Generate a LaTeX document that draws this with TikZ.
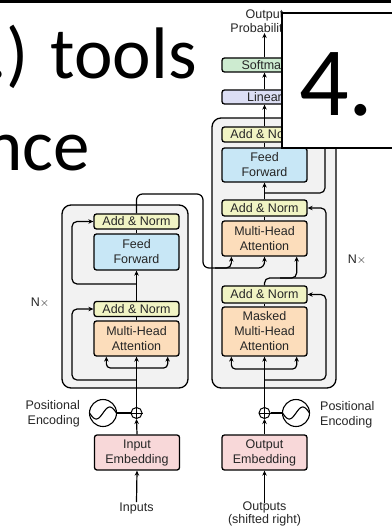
\documentclass[tikz,border=0pt]{standalone}
\usepackage{fontspec}
\setmainfont{Liberation Sans}
\newfontfamily\slidefont{Carlito}
\usetikzlibrary{arrows.meta}
\definecolor{anfill}{HTML}{F1F4C4}
\definecolor{fffill}{HTML}{C8E7F6}
\definecolor{mhafill}{HTML}{FCDDBB}
\definecolor{embfill}{HTML}{F8D8D9}
\definecolor{linfill}{HTML}{DCDEF4}
\definecolor{smfill}{HTML}{CDEBD0}
\definecolor{layerfill}{HTML}{F2F2F2}
\definecolor{txt}{HTML}{262626}
\begin{document}
\begin{tikzpicture}[x=1pt,y=-1pt,
  every node/.style={font=\fontsize{12.5}{15}\selectfont, text=txt},
  blk/.style={draw=black, line width=1.3pt, rounded corners=2.5pt, minimum width=85pt, inner sep=0pt, align=center},
  an/.style={blk, fill=anfill, minimum height=15pt},
  ffb/.style={blk, fill=fffill, minimum height=35pt},
  mha/.style={blk, fill=mhafill, minimum height=35pt},
  emb/.style={blk, fill=embfill, minimum height=35pt},
  layer/.style={draw=black, line width=1.3pt, fill=layerfill, rounded corners=9pt, inner sep=0pt},
  conn/.style={line width=1.2pt, draw=black},
  arr/.style={conn, -{Stealth[length=5pt,width=4.5pt]}},
  addc/.style={circle, draw=black, line width=1pt, fill=white, minimum size=11pt, inner sep=0pt},
  pec/.style={circle, draw=black, line width=1.1pt, fill=white, minimum size=27pt, inner sep=0pt},
  lbl/.style={inner sep=0pt, align=center},
  slide/.style={inner sep=0pt, text=black, anchor=base west},
]
\useasboundingbox (0,0) rectangle (391,532);
\fill[white] (0,0) rectangle (391,532);

% slide text
\node[slide, font=\slidefont\fontsize{73}{73}\selectfont] (t1) at (-12,79) {.) tools};
\node[slide, font=\slidefont\fontsize{73}{73}\selectfont] (t2) at (-16,170) {nce};

% layer boxes
\node[layer, minimum width=126pt, minimum height=183pt] (encbox) at (125,296.5) {};
\node[layer, minimum width=124pt, minimum height=270pt] (decbox) at (274,253) {};

% encoder
\node[an] (encAN2) at (136.5,221.5) {Add \& Norm};
\node[ffb, minimum height=36pt] (encFF) at (136.5,252) {Feed\\Forward};
\node[an] (encAN1) at (136.5,309) {Add \& Norm};
\node[mha] (encMHA) at (136.5,338.5) {Multi-Head\\Attention};
\node[emb] (encEmb) at (137,452.5) {Input\\Embedding};
\node[addc] (encadd) at (136.5,413) {};
\node[pec] (encpe) at (103,413) {};
\node[lbl, anchor=east, align=right] (encpet) at (80,414) {Positional\\Encoding};
\node[lbl] (inputs) at (136.5,508) {Inputs};
\node[lbl] (encN) at (40,303) {N$\times$};

% decoder
\node[blk, fill=smfill, minimum height=14pt] (soft) at (264.5,65) {Softmax};
\node[blk, fill=linfill, minimum height=14pt] (lin) at (264.5,97) {Linear};
\node[lbl, font=\fontsize{12.5}{14}\selectfont] (outprob) at (264.5,21.5) {Output\\Probabilities};
\node[an] (decAN3) at (264.5,134.5) {Add \& Norm};
\node[ffb, minimum height=34pt] (decFF) at (264.5,165) {Feed\\Forward};
\node[an, minimum height=16pt] (decAN2) at (264.5,208) {Add \& Norm};
\node[mha] (decMHA) at (264.5,238.5) {Multi-Head\\Attention};
\node[an, minimum height=17pt] (decAN1) at (264.5,294.5) {Add \& Norm};
\node[mha, minimum height=49pt] (decMMHA) at (264.5,331.5) {Masked\\Multi-Head\\Attention};
\node[emb] (decEmb) at (264.5,452.5) {Output\\Embedding};
\node[addc] (decadd) at (264.5,413) {};
\node[pec] (decpe) at (296,413) {};
\node[lbl, anchor=west, align=left] (decpet) at (320,415) {Positional\\Encoding};
\node[lbl, font=\fontsize{12.5}{13.5}\selectfont] (outputs) at (264.5,514) {Outputs\\(shifted right)};
\node[lbl] (decN) at (357,260) {N$\times$};

% add symbols and sine waves
\foreach \n in {encadd,decadd}{
  \draw[line width=1pt] (\n.north) -- (\n.south);
  \draw[line width=1pt] (\n.west) -- (\n.east);
}
\foreach \n in {encpe,decpe}{
  \draw[line width=1.1pt, shift={(\n.center)}] plot[domain=-13.5:13.5, samples=40, smooth] (\x, {-6*sin(\x/13.5*180)});
}

% encoder connectors
\draw[arr] (inputs.north) -- (encEmb.south);
\draw[arr] (encEmb.north) -- (encadd.south);
\draw[conn] (encpe.east) -- (encadd.west);
\draw[arr] (encadd.north) -- (encMHA.south);
\draw[arr, rounded corners=5pt] (136.5,380) -| (72,330) |- (encAN1.west);
\draw[arr, rounded corners=4pt] (136.5,368) -| ([xshift=13pt]encMHA.south west);
\draw[arr, rounded corners=4pt] (136.5,368) -| ([xshift=-12pt]encMHA.south east);
\draw[conn] (encMHA.north) -- (encAN1.south);
\draw[arr] (encAN1.north) -- (encFF.south);
\draw[arr, rounded corners=5pt] (136.5,284) -| (72,250) |- (encAN2.west);
\draw[conn] (encFF.north) -- (encAN2.south);
\draw[arr, rounded corners=6pt] (encAN2.north) -- (136.5,194) -- (203,194) -- (203,268) -- (264.5,268) -- (decMHA.south);
\draw[arr, rounded corners=5pt] (215,268) -| ([xshift=10pt]decMHA.south west);

% decoder connectors
\draw[arr] ([yshift=-2pt]outputs.north) -- (decEmb.south);
\draw[arr] (decEmb.north) -- (decadd.south);
\draw[conn] (decpe.west) -- (decadd.east);
\draw[arr] (decadd.north) -- (decMMHA.south);
\draw[arr, rounded corners=5pt] (264.5,380) -| (326,330) |- (decAN1.east);
\draw[arr, rounded corners=4pt] (264.5,369) -| ([xshift=10pt]decMMHA.south west);
\draw[arr, rounded corners=4pt] (264.5,369) -| ([xshift=-11pt]decMMHA.south east);
\draw[conn] (decMMHA.north) -- (decAN1.south);
\draw[arr, rounded corners=5pt] (decAN1.north) -- (264.5,278) -| ([xshift=-11pt]decMHA.south east);
\draw[arr, rounded corners=5pt] (280,278) -| (326,240) |- (decAN2.east);
\draw[conn] (decMHA.north) -- (decAN2.south);
\draw[arr] (decAN2.north) -- (decFF.south);
\draw[arr, rounded corners=5pt] (264.5,193) -| (325,160) |- (decAN3.east);
\draw[conn] (decFF.north) -- (decAN3.south);
\draw[arr] (decAN3.north) -- (lin.south);
\draw[arr] (lin.north) -- (soft.south);
\draw[arr] (soft.north) -- (outprob.south);

% slide overlay
\fill[black] (0,0) rectangle (391,3);
\node[draw=black, line width=2.5pt, fill=white, minimum width=130pt, minimum height=135pt, inner sep=0pt] (numbox) at (347,80.5) {};
\node[slide, font=\slidefont\fontsize{98}{98}\selectfont] (num) at (299,115) {4.};
\end{tikzpicture}
\end{document}
